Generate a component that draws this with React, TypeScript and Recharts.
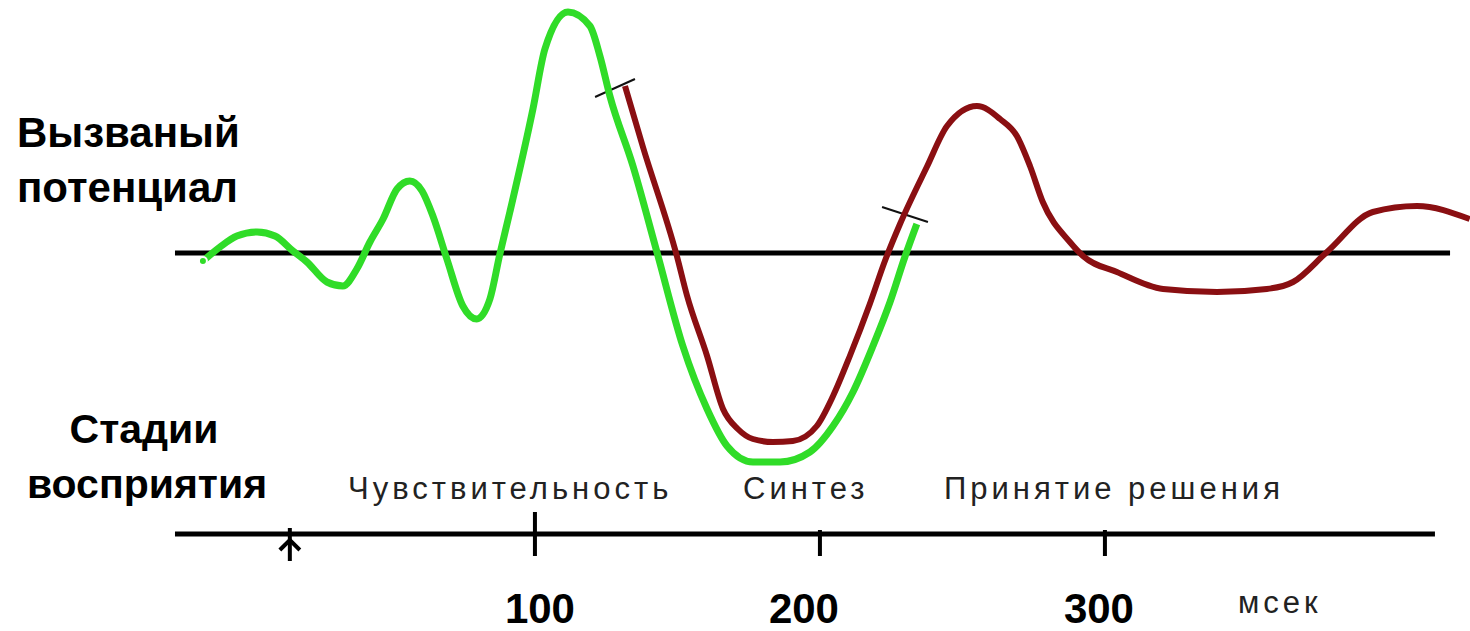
import { LineChart, Line, XAxis, YAxis, ReferenceLine } from "recharts";

// time in ms, amplitude in arbitrary units (positive = up)
const greenMs = [-16.5, -10.5, -4.6, 2.5, 8.8, 15.1, 20.0, 27.0, 32.6, 37.5, 42.1, 46.7, 51.6, 56.1, 60.4, 64.2, 69.1, 74.7, 79.6, 84.2, 87.7, 91.2, 99.3, 103.5, 111.6, 119.3, 122.8, 126.3, 134.4, 142.8, 151.9, 160.4, 167.4, 176.5, 186.0, 196.5, 204.6, 211.6, 218.6, 224.6, 229.8, 234.0];
const greenAmp = [-0.8, 0.6, 1.7, 2.1, 1.7, 0.2, -0.9, -2.9, -3.3, -1.6, 1.1, 3.4, 6.4, 7.2, 6.2, 3.7, -0.6, -5.3, -6.6, -4.6, -0.1, 4.1, 14.4, 20.4, 24.1, 22.7, 19.7, 15.7, 8.7, 0.1, -9.3, -15.6, -19.3, -20.9, -20.9, -19.9, -17.3, -13.9, -9.3, -4.9, -0.4, 2.9];

const redMs = [131.6, 137.9, 149.8, 153.3, 160.4, 166.0, 171.2, 176.5, 183.5, 190.5, 198.9, 204.6, 210.5, 217.5, 222.8, 228.1, 237.5, 244.6, 255.1, 263.2, 269.1, 273.7, 278.2, 287.7, 292.3, 304.2, 320.4, 339.3, 356.8, 366.0, 377.9, 394.0, 409.5, 428.0];
const redAmp = [16.7, 10.6, -0.3, -4.2, -10.3, -15.6, -17.6, -18.6, -18.9, -18.8, -17.3, -14.3, -10.3, -5.1, -0.8, 2.9, 8.6, 12.7, 14.7, 13.4, 11.7, 8.7, 5.1, 1.1, -0.3, -1.9, -3.6, -3.9, -3.6, -2.9, 0.1, 4.1, 4.7, 3.4];

const timeTicks = [100, 200, 300];
const stimulusMs = 14;
const timeUnit = "мсек";
const potentialTitle = ["Вызваный", "потенциал"];
const stageTitle = ["Стадии", "восприятия"];
const stageLabels = ["Чувствительность", "Синтез", "Принятие решения"];

// short cut marks where the second trace starts and the first one ends
const cutMarks = [
  [{ x: 121.1, y: 15.6 }, { x: 135.1, y: 17.4 }],
  [{ x: 221.8, y: 4.6 }, { x: 237.9, y: 3.1 }],
];

const greenData = greenMs.map((t, i) => ({ t, v: greenAmp[i] }));
const redData = redMs.map((t, i) => ({ t, v: redAmp[i] }));

const W = 1470;
const H = 631;
const AXIS_BOTTOM = 97;
const X_DOMAIN = [-87.7, 428.1];
const Y_DOMAIN = [-28.1, 25.3];
// the numbers under the ticks are not quite centred on them in the original
const labelNudge: Record<number, number> = { 100: 5, 200: -16, 300: -6 };

const boldFont = "'Liberation Sans', Arial, sans-serif";
const narrowFont = "'Liberation Sans Narrow', 'Arial Narrow', sans-serif";
const thinFont = "'Liberation Sans', Arial, sans-serif";

const TimeTick = (props: any) => {
  const { x, y, payload } = props;
  const v = payload.value;
  if (v === stimulusMs) {
    return (
      <g stroke="#000" strokeWidth={4} fill="none">
        <line x1={x} x2={x} y1={y - 6} y2={y + 27} />
        <polyline points={`${x - 10},${y + 16} ${x},${y + 6} ${x + 10},${y + 16}`} />
      </g>
    );
  }
  const top = v === 100 ? y - 22 : y - 4;
  return (
    <g>
      <line x1={x} x2={x} y1={top} y2={y + 22} stroke="#000" strokeWidth={4} />
      <text
        x={x + (labelNudge[v] || 0)}
        y={y + 89}
        textAnchor="middle"
        fontFamily={narrowFont}
        fontWeight="bold"
        fontSize={42}
        fill="#000"
      >
        {v}
      </text>
    </g>
  );
};

export default function App() {
  return (
    <div style={{ position: "absolute", left: 0, top: 0, width: W, height: H, background: "#fff" }}>
      <LineChart width={W} height={H} margin={{ top: 0, right: 0, left: 0, bottom: 0 }}>
        <XAxis
          type="number"
          dataKey="t"
          domain={X_DOMAIN}
          allowDataOverflow
          ticks={[stimulusMs, ...timeTicks]}
          interval={0}
          height={AXIS_BOTTOM}
          axisLine={false}
          tickLine={false}
          tickSize={0}
          tickMargin={0}
          tick={<TimeTick />}
        />
        <YAxis type="number" domain={Y_DOMAIN} allowDataOverflow hide />
        <ReferenceLine
          segment={[{ x: -26.3, y: 0 }, { x: 421.1, y: 0 }]}
          stroke="#000"
          strokeWidth={5}
        />
        <ReferenceLine
          segment={[{ x: -26.3, y: Y_DOMAIN[0] }, { x: 415.8, y: Y_DOMAIN[0] }]}
          stroke="#000"
          strokeWidth={5}
          ifOverflow="visible"
        />
        {cutMarks.map((seg, i) => (
          <ReferenceLine key={i} segment={seg} stroke="#111" strokeWidth={2} />
        ))}
        <Line
          data={redData}
          dataKey="v"
          type="monotone"
          stroke="#8a0f12"
          strokeWidth={6}
          dot={false}
          isAnimationActive={false}
        />
        <Line
          data={greenData}
          dataKey="v"
          type="monotone"
          stroke="#30dc28"
          strokeWidth={7}
          dot={false}
          isAnimationActive={false}
        />
      </LineChart>
      <svg width={W} height={H} style={{ position: "absolute", left: 0, top: 0, pointerEvents: "none" }}>
        <g fontFamily={boldFont} fontWeight="bold" fontSize={42} fill="#000">
          <text x={17} y={147}>{potentialTitle[0]}</text>
          <text x={17} y={202}>{potentialTitle[1]}</text>
          <text x={144} y={443} textAnchor="middle" fontSize={41}>{stageTitle[0]}</text>
          <text x={147} y={498} textAnchor="middle" fontSize={41}>{stageTitle[1]}</text>
        </g>
        <g fontFamily={thinFont} fontSize={31} fill="#222" letterSpacing={4}>
          <text x={348} y={499}>{stageLabels[0]}</text>
          <text x={743} y={499}>{stageLabels[1]}</text>
          <text x={944} y={499}>{stageLabels[2]}</text>
          <text x={1238} y={613}>{timeUnit}</text>
        </g>
      </svg>
    </div>
  );
}
